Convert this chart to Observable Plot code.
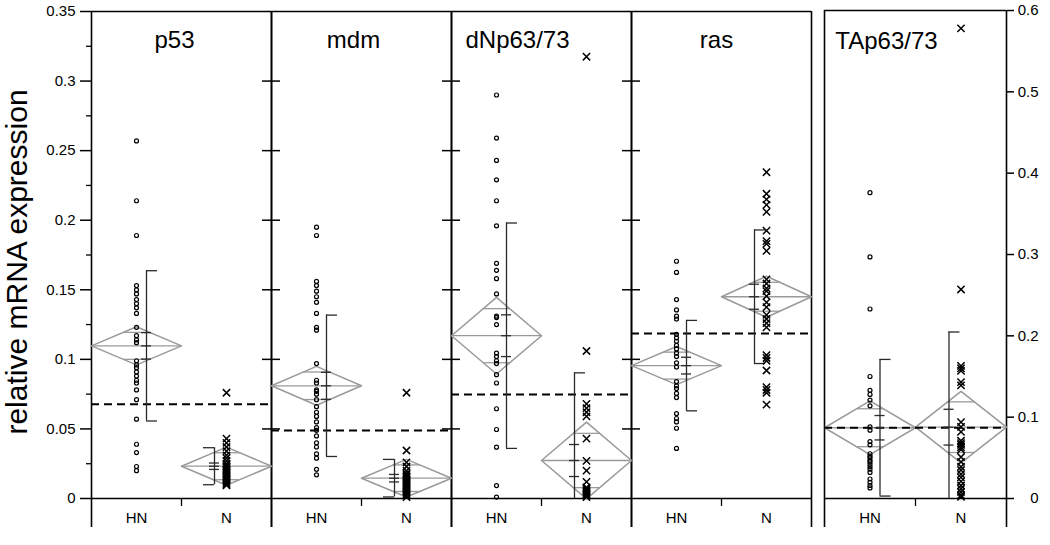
<!DOCTYPE html>
<html>
<head>
<meta charset="utf-8">
<script src="https://cdn.jsdelivr.net/npm/d3@7"></script>
<script src="https://cdn.jsdelivr.net/npm/@observablehq/plot@0.6"></script>
<style>
  html, body { margin: 0; padding: 0; background: #fff; }
  #wrap { position: relative; width: 1050px; height: 545px; overflow: hidden; }
  #wrap svg { position: absolute; top: 0; }
</style>
</head>
<body>
<div id="wrap"></div>
<script>
// ---------------- data ----------------
const genes = ["p53", "mdm", "dNp63/73", "ras", "TAp63/73"];
const groups = ["HN", "N"];

const p53_HN = [0.257, 0.214, 0.189, 0.153, 0.150, 0.147, 0.143, 0.140, 0.137, 0.133, 0.123, 0.117, 0.114, 0.112,
  0.099, 0.096, 0.094, 0.091, 0.088, 0.085, 0.083, 0.078, 0.071, 0.057, 0.039, 0.033, 0.023, 0.020];
const p53_N = [0.076, 0.043, 0.040, 0.037, 0.034, 0.031, 0.029, 0.027, 0.025, 0.024, 0.023, 0.022, 0.021, 0.020,
  0.019, 0.018, 0.017, 0.016, 0.015, 0.014, 0.013, 0.012, 0.011, 0.010, 0.0095];
const mdm_HN = [0.195, 0.189, 0.156, 0.153, 0.149, 0.145, 0.141, 0.133, 0.123, 0.121, 0.097, 0.085, 0.083, 0.078,
  0.077, 0.075, 0.071, 0.066, 0.062, 0.059, 0.055, 0.051, 0.049, 0.045, 0.040, 0.037, 0.032, 0.029, 0.021, 0.017];
const mdm_N = [0.076, 0.0345, 0.026, 0.023, 0.020, 0.018, 0.017, 0.016, 0.015, 0.014, 0.013, 0.012, 0.011, 0.010,
  0.009, 0.008, 0.007, 0.006, 0.005, 0.004, 0.003, 0.002, 0.001];
const dNp_HN = [0.290, 0.259, 0.243, 0.229, 0.214, 0.196, 0.169, 0.164, 0.158, 0.147, 0.131, 0.130, 0.125, 0.1045,
  0.102, 0.099, 0.097, 0.089, 0.083, 0.0645, 0.0496, 0.0369, 0.0093, 0.001];
const dNp_N = [0.3175, 0.106, 0.068, 0.065, 0.062, 0.059, 0.043, 0.027, 0.020, 0.012, 0.008, 0.007, 0.006, 0.005,
  0.004, 0.003, 0.002, 0.001];
const ras_HN = [0.1705, 0.1625, 0.143, 0.1355, 0.131, 0.129, 0.118, 0.1155, 0.113, 0.110, 0.1075, 0.1045, 0.102,
  0.0975, 0.0945, 0.084, 0.081, 0.079, 0.0755, 0.0725, 0.061, 0.0575, 0.055, 0.0505, 0.036];
const ras_N = [0.2345, 0.219, 0.215, 0.211, 0.206, 0.1925, 0.185, 0.183, 0.178, 0.1575, 0.1545, 0.151, 0.149, 0.1455,
  0.141, 0.1375, 0.132, 0.129, 0.126, 0.123, 0.103, 0.101, 0.099, 0.092, 0.080, 0.078, 0.076, 0.0675];
const tap_HN = [0.376, 0.297, 0.233, 0.150, 0.133, 0.128, 0.121, 0.114, 0.088, 0.084, 0.070, 0.066, 0.055, 0.052,
  0.050, 0.047, 0.045, 0.042, 0.039, 0.036, 0.032, 0.024, 0.020, 0.016, 0.013];
const tap_N = [0.578, 0.257, 0.163, 0.160, 0.157, 0.143, 0.139, 0.094, 0.088, 0.082, 0.071, 0.068, 0.066, 0.063,
  0.060, 0.051, 0.045, 0.039, 0.035, 0.030, 0.026, 0.021, 0.016, 0.012, 0.008, 0.004, 0.002];

// summaries per gene (order of genes)
const meanHN = [0.1097, 0.081, 0.117, 0.0955, 0.087];
const meanN  = [0.0232, 0.0146, 0.0273, 0.145, 0.0877];
const sdHN   = [0.054, 0.0508, 0.081, 0.0325, 0.084];
const sdN    = [0.0133, 0.0135, 0.063, 0.048, 0.117];
const seHN   = [0.0095, 0.0097, 0.015, 0.006, 0.015];
const seN    = [0.0023, 0.0027, 0.0115, 0.009, 0.022];
const ciHN   = [0.0137, 0.014, 0.0275, 0.0137, 0.033];
const ciN    = [0.0137, 0.0135, 0.0276, 0.0147, 0.044];
const grandMean = [0.0677, 0.0489, 0.0748, 0.1186, 0.087];

const leftTicks = [0, 0.05, 0.1, 0.15, 0.2, 0.25, 0.3, 0.35];
const leftMinor = [0.025, 0.075, 0.125, 0.175, 0.225, 0.275, 0.325];
const borderTicks = [0.05, 0.1, 0.15, 0.2, 0.25, 0.3];
const rightTicks = [0, 0.1, 0.2, 0.3, 0.4, 0.5, 0.6];
const yLabel = "relative mRNA expression";

// ---------------- layout / style ----------------
const titleShift = [-7, -8, -24, -5, -29];
const capSideN = [-1, -1, 1, 1, 1];
const FONT = "'Liberation Sans', Arial, Helvetica, sans-serif";
const diamondColor = "#9a9a9a";
const barColor = "#2a2a2a";

// ---------------- tables ----------------
const valuesHN = [p53_HN, mdm_HN, dNp_HN, ras_HN, tap_HN];
const valuesN = [p53_N, mdm_N, dNp_N, ras_N, tap_N];
const points = [];
genes.forEach((g, i) => {
  valuesHN[i].forEach(v => points.push({gene: g, group: "HN", v}));
  valuesN[i].forEach(v => points.push({gene: g, group: "N", v}));
});
const stats = [];
genes.forEach((g, i) => {
  stats.push({gene: g, gi: i, group: "HN", mean: meanHN[i], sd: sdHN[i], se: seHN[i], ci: ciHN[i]});
  stats.push({gene: g, gi: i, group: "N", mean: meanN[i], sd: sdN[i], se: seN[i], ci: ciN[i]});
});
const gIdx = d => groups.indexOf(d.group);
const xc = d => gIdx(d) + 0.5;
const fmt = d => String(+d.toFixed(2));
const K = Math.SQRT1_2;

function buildMarks(gs, yMax, isMain) {
  const frames = gs.map(g => ({gene: g, gi: genes.indexOf(g)}));
  const pts = points.filter(d => gs.includes(d.gene));
  const st = stats.filter(d => gs.includes(d.gene));
  const diamond = st.flatMap(s => {
    const i = gIdx(s);
    return [[i, s.mean], [i + 0.5, s.mean + s.ci], [i + 1, s.mean], [i + 0.5, s.mean - s.ci], [i, s.mean]]
      .map(([x, y]) => ({gene: s.gene, key: s.gene + s.group, x, y}));
  });
  const innerLines = st.flatMap(s => {
    const i = gIdx(s), h = 0.5 * (1 - K);
    return [
      {gene: s.gene, x1: i, x2: i + 1, y: s.mean},
      {gene: s.gene, x1: i + 0.5 - h, x2: i + 0.5 + h, y: s.mean + s.ci * K},
      {gene: s.gene, x1: i + 0.5 - h, x2: i + 0.5 + h, y: s.mean - s.ci * K}
    ];
  });
  const caps = st.flatMap(s => {
    const out = [{...s, y: s.mean + s.sd}];
    if (s.mean - s.sd >= 0) out.push({...s, y: s.mean - s.sd});
    return out;
  });
  const seTicks = st.flatMap(s => [s.mean - s.se, s.mean, s.mean + s.se].map(y => ({...s, y})));
  const labels = frames.flatMap(f => groups.map(grp => ({gene: f.gene, group: grp})));
  const grand = frames.map(f => ({gene: f.gene, y: grandMean[f.gi]}));

  const marks = [];
  // frame lines
  marks.push(Plot.ruleY(frames, {fx: "gene", y: () => yMax, x1: () => 0, x2: () => 2, stroke: "black", strokeWidth: 1.6}));
  marks.push(Plot.ruleY(frames, {fx: "gene", y: () => 0, x1: () => 0, x2: () => 2, stroke: "black", strokeWidth: 1.6}));
  marks.push(Plot.ruleX(frames, {fx: "gene", x: () => 0, y1: () => yMax, y2: () => 0, insetBottom: -29, stroke: "black", strokeWidth: 1.6}));
  marks.push(Plot.ruleX(frames, {fx: "gene", x: () => 2, y1: () => yMax, y2: () => 0, insetBottom: -29, stroke: "black", strokeWidth: 1.6}));
  // separator tick between HN and N
  marks.push(Plot.ruleX(frames, {fx: "gene", x: () => 1, y1: () => 0, y2: () => 0, insetBottom: -8, stroke: "black", strokeWidth: 1.3}));
  // diamonds
  marks.push(Plot.line(diamond, {fx: "gene", x: "x", y: "y", z: "key", stroke: diamondColor, strokeWidth: 1.5}));
  marks.push(Plot.link(innerLines, {fx: "gene", x1: "x1", x2: "x2", y1: "y", y2: "y", stroke: diamondColor, strokeWidth: 1.3}));
  // grand mean dashed
  marks.push(Plot.ruleY(grand, {fx: "gene", y: "y", x1: () => 0, x2: () => 2, stroke: "black", strokeWidth: 2, strokeDasharray: "8,5"}));
  // error bars
  for (const grp of groups) {
    const off = grp === "HN" ? 10 : -12;
    const sel = d => d.group === grp;
    marks.push(Plot.ruleX(st.filter(sel), {fx: "gene", x: xc, y1: d => Math.max(0, d.mean - d.sd), y2: d => d.mean + d.sd,
      dx: off, stroke: barColor, strokeWidth: 1.3}));
    marks.push(Plot.ruleY(seTicks.filter(sel), {fx: "gene", x1: xc, x2: xc, y: "y", dx: off,
      insetLeft: -5, insetRight: -5, stroke: barColor, strokeWidth: 1.3}));
    if (grp === "HN") {
      marks.push(Plot.ruleY(caps.filter(sel), {fx: "gene", x1: xc, x2: xc, y: "y", dx: off, insetRight: -11, stroke: barColor, strokeWidth: 1.3}));
    } else {
      marks.push(Plot.ruleY(caps.filter(d => sel(d) && capSideN[d.gi] > 0), {fx: "gene", x1: xc, x2: xc, y: "y", dx: off, insetRight: -11, stroke: barColor, strokeWidth: 1.3}));
      marks.push(Plot.ruleY(caps.filter(d => sel(d) && capSideN[d.gi] < 0), {fx: "gene", x1: xc, x2: xc, y: "y", dx: off, insetLeft: -11, stroke: barColor, strokeWidth: 1.3}));
    }
  }
  // points
  marks.push(Plot.dot(pts.filter(d => d.group === "HN"), {fx: "gene", x: xc, y: "v", r: 2, symbol: "circle",
    stroke: "black", strokeWidth: 1.2, fill: "none"}));
  marks.push(Plot.dot(pts.filter(d => d.group === "N"), {fx: "gene", x: xc, y: "v", r: 3.4, symbol: "times",
    stroke: "black", strokeWidth: 1.5}));
  // category labels
  marks.push(Plot.text(labels, {fx: "gene", x: xc, text: "group", frameAnchor: "bottom", lineAnchor: "middle", dy: 20,
    fontSize: 15, fill: "black"}));
  // panel titles
  frames.forEach(f => {
    marks.push(Plot.text([f], {fx: "gene", text: "gene", frameAnchor: "top", lineAnchor: "middle", textAnchor: "middle",
      dx: titleShift[f.gi], dy: isMain ? 29 : 31, fontSize: 24, fill: "black"}));
  });
  if (isMain) {
    const inner = frames.slice(1).flatMap(f => borderTicks.map(t => ({gene: f.gene, t})));
    marks.push(Plot.ruleY(inner, {fx: "gene", y: "t", x1: () => 0, x2: () => 0, insetLeft: -9, insetRight: -9, stroke: "black", strokeWidth: 1.5}));
    marks.push(Plot.axisY(leftTicks, {anchor: "left", tickSize: 11, tickPadding: 5, fontSize: 15, tickFormat: fmt, strokeWidth: 1.5, label: null}));
    marks.push(Plot.axisY(leftMinor, {anchor: "left", tickSize: 5, tickFormat: () => "", strokeWidth: 1.3, label: null}));
    marks.push(Plot.text([yLabel], {fx: () => gs[0], frameAnchor: "left", rotate: -90, textAnchor: "middle", lineAnchor: "middle",
      dx: -74, dy: 7, fontSize: 30, fill: "black"}));
  } else {
    marks.push(Plot.axisY(rightTicks, {anchor: "right", tickSize: 7, tickPadding: 25, textAnchor: "end", fontSize: 15,
      tickFormat: fmt, strokeWidth: 1.5, label: null}));
  }
  return marks;
}

const common = {height: 545, marginTop: 11, marginBottom: 47,
  x: {domain: [0, 2], axis: null}, style: {fontFamily: FONT, background: "transparent", overflow: "visible"}};

const main = Plot.plot({
  ...common, width: 814, marginLeft: 89, marginRight: 2,
  fx: {domain: genes.slice(0, 4), padding: 0, axis: null},
  y: {domain: [0, 0.35], axis: null},
  marks: buildMarks(genes.slice(0, 4), 0.35, true)
});
const side = Plot.plot({
  ...common, width: 238, marginLeft: 12, marginRight: 44, marginTop: 10,
  fx: {domain: genes.slice(4), padding: 0, axis: null},
  y: {domain: [0, 0.6], axis: null},
  marks: buildMarks(genes.slice(4), 0.6, false)
});
main.style.left = "0px";
side.style.left = "812px";
const wrap = document.getElementById("wrap");
wrap.appendChild(main);
wrap.appendChild(side);
</script>
</body>
</html>
